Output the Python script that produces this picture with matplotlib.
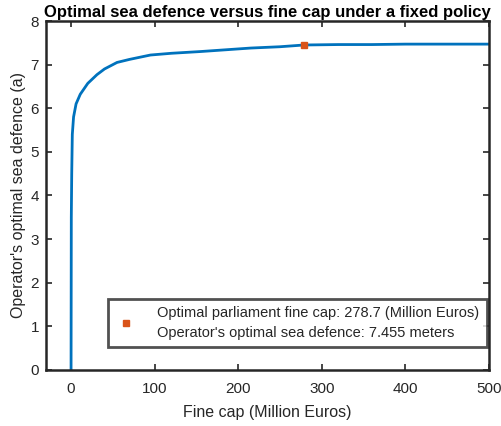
import numpy as np
import matplotlib.pyplot as plt

plt.rcParams['font.family'] = ['Liberation Sans', 'DejaVu Sans']

# fine cap (Million Euros) vs operator's optimal sea defence
fine_cap = [0, 0.3, 0.8, 1.5, 3, 6, 11, 20, 31, 40, 55, 70, 95, 120, 155,
            185, 215, 250, 278.7, 320, 360, 400, 450, 500]
sea_def = [0, 3.5, 4.5, 5.4, 5.8, 6.1, 6.32, 6.57, 6.77, 6.9, 7.05, 7.12, 7.22,
           7.26, 7.3, 7.34, 7.38, 7.41, 7.45, 7.46, 7.46, 7.47, 7.47, 7.47]

opt_cap = 278.7
opt_def = 7.455

fig = plt.figure(figsize=(5.02, 4.26), dpi=100)
ax = fig.add_axes([0.0916, 0.1315, 0.8824, 0.8192])

ax.plot(fine_cap, sea_def, color='#0072BD', lw=2)
ax.plot([opt_cap], [opt_def], 's', color='#D95319', ms=5,
        label='Optimal parliament fine cap: %.1f (Million Euros)\n'
              "Operator's optimal sea defence: %.3f meters" % (opt_cap, opt_def))

ax.set_xlim(-30, 500)
ax.set_ylim(0, 8)
ax.set_xticks([0, 100, 200, 300, 400, 500])
ax.set_yticks(range(0, 9))
ax.tick_params(direction='in', top=True, right=True, length=4, width=1.2,
               labelsize=11, colors='#262626', labelcolor='#262626')
ax.tick_params(axis='x', pad=9)
ax.tick_params(axis='y', pad=5)
for s in ax.spines.values():
    s.set_linewidth(1.8)
    s.set_color('#262626')

ax.set_xlabel('Fine cap (Million Euros)', fontsize=11.5, color='#262626', labelpad=6)
ax.set_ylabel("Operator's optimal sea defence (a)", fontsize=11.5, color='#262626', labelpad=3)
ax.set_title('Optimal sea defence versus fine cap under a fixed policy',
             fontsize=12, fontweight='bold', pad=3)

leg = ax.legend(loc='lower right', bbox_to_anchor=(0.995, 0.066), borderaxespad=0,
                fancybox=False, fontsize=10.5, handlelength=1.5, handletextpad=1.4,
                borderpad=0.5, labelspacing=0.3)
leg.get_frame().set_edgecolor('#262626')
leg.get_frame().set_linewidth(2)
for t in leg.get_texts():
    t.set_color('#262626')
    t.set_linespacing(1.5)

fig.savefig('out.png', dpi=100)
